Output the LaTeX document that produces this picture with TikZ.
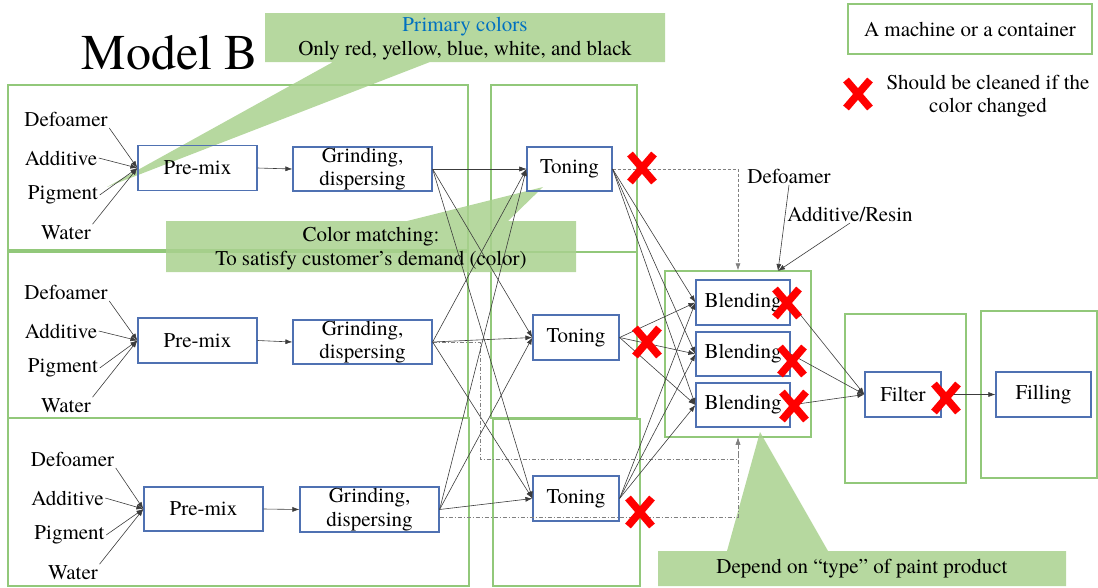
\documentclass[tikz,border=0pt]{standalone}
\usepackage{fontspec}
\setmainfont{texgyretermes}[Extension=.otf, UprightFont=*-regular, BoldFont=*-bold, ItalicFont=*-italic, BoldItalicFont=*-bolditalic]
\newfontfamily\tnr{texgyretermes}[Extension=.otf, UprightFont=*-regular, BoldFont=*-bold, ItalicFont=*-italic, BoldItalicFont=*-bolditalic]
\usetikzlibrary{arrows.meta}
\definecolor{boxblue}{RGB}{79,113,178}
\definecolor{contgreen}{RGB}{146,200,122}
\definecolor{callg}{RGB}{169,209,142}
\definecolor{primblue}{RGB}{0,112,192}
\definecolor{linec}{RGB}{60,60,60}
\tikzset{
  every node/.style={font=\tnr\fontsize{21}{23.5}\selectfont},
  cont/.style={draw=contgreen, line width=1.3pt, inner sep=0pt},
  pbox/.style={draw=boxblue, line width=1.2pt, inner sep=0pt, align=center},
  lbl/.style={inner sep=1.5pt},
  conn/.style={draw=linec, line width=0.6pt, -{Latex[length=7pt,width=5pt]}},
  dconn/.style={draw=gray, line width=0.7pt, dash pattern=on 3pt off 2pt, -{Latex[length=7pt,width=5pt]}},
  ddconn/.style={draw=gray, line width=0.7pt, dash pattern=on 4pt off 2pt on 1pt off 2pt, -{Latex[length=7pt,width=5pt]}},
  callout/.style={fill=callg, fill opacity=0.85},
  ctext/.style={inner sep=0pt, align=center},
  redx/.pic={\draw[red, line width=7.5pt] (-12,-14) -- (12,14) (-12,14) -- (12,-14);}
}
\begin{document}
\begin{tikzpicture}[x=1pt,y=-1pt]
\useasboundingbox (0,0) rectangle (1098,587);
% containers
\node[cont, minimum width=460pt, minimum height=165pt] (c1) at (238,167.5) {};
\node[cont, minimum width=460pt, minimum height=166pt] (c2) at (238,335) {};
\node[cont, minimum width=461pt, minimum height=168pt] (c3) at (238.5,502) {};
\node[cont, minimum width=146pt, minimum height=167pt] (t1c) at (564,168.5) {};
\node[cont, minimum width=146pt, minimum height=166pt] (t2c) at (564,335) {};
\node[cont, minimum width=147pt, minimum height=167pt] (t3c) at (566.5,502.5) {};
\node[cont, minimum width=146pt, minimum height=166pt] (bc) at (738,354) {};
\node[cont, minimum width=121pt, minimum height=169pt] (fc) at (905.5,398.5) {};
\node[cont, minimum width=116pt, minimum height=167pt] (flc) at (1039,394.5) {};
\node[cont, minimum width=244pt, minimum height=50pt] (leg) at (970,29) {A machine or a container};

% callouts
\fill[callout] (265,13) rectangle (665,62) (333,62) -- (107,187) -- (430,62) -- cycle;
\fill[callout] (166,221) rectangle (576,272) (407,221) -- (543,187) -- (508,221) -- cycle;
\fill[callout] (658,551) rectangle (1066,586) (727,551) -- (760,432) -- (828,551) -- cycle;

% title
\node[inner sep=0pt, font=\tnr\fontsize{50}{54}\selectfont] (title) at (170,53) {Model B};

% process boxes
\node[pbox, minimum width=119pt, minimum height=45pt] (pm1) at (197.5,168) {Pre-mix};
\node[pbox, minimum width=139pt, minimum height=44pt] (gr1) at (362.5,169) {Grinding,\\dispersing};
\node[pbox, minimum width=119pt, minimum height=45pt] (pm2) at (197.5,340.5) {Pre-mix};
\node[pbox, minimum width=139pt, minimum height=44pt] (gr2) at (362.5,342) {Grinding,\\dispersing};
\node[pbox, minimum width=119pt, minimum height=44pt] (pm3) at (203.5,509) {Pre-mix};
\node[pbox, minimum width=139pt, minimum height=45pt] (gr3) at (369.5,509.5) {Grinding,\\dispersing};
\node[pbox, minimum width=85pt, minimum height=44pt] (to1) at (569.5,169) {Toning};
\node[pbox, minimum width=86pt, minimum height=45pt] (to2) at (576,337.5) {Toning};
\node[pbox, minimum width=86pt, minimum height=45pt] (to3) at (576,498.5) {Toning};
\node[pbox, minimum width=94pt, minimum height=45pt] (bl1) at (743,302.5) {Blending};
\node[pbox, minimum width=94pt, minimum height=44pt] (bl2) at (743,354) {Blending};
\node[pbox, minimum width=94pt, minimum height=44pt] (bl3) at (743,405) {Blending};
\node[pbox, minimum width=76pt, minimum height=45pt] (fil) at (903,394.5) {Filter};
\node[pbox, minimum width=95pt, minimum height=45pt] (fll) at (1043.5,394.5) {Filling};

% input labels
\node[lbl] (d1) at (66,119) {Defoamer};
\node[lbl] (a1) at (61,158) {Additive};
\node[lbl] (p1) at (63,195) {Pigment};
\node[lbl] (w1) at (66,233) {Water};
\node[lbl] (d2) at (66,292) {Defoamer};
\node[lbl] (a2) at (61,331) {Additive};
\node[lbl] (p2) at (63,368) {Pigment};
\node[lbl] (w2) at (66,406) {Water};
\node[lbl] (d3) at (72.5,459) {Defoamer};
\node[lbl] (a3) at (67.5,498) {Additive};
\node[lbl] (p3) at (69.5,535) {Pigment};
\node[lbl] (w3) at (73,573) {Water};
\node[lbl] (bd) at (789,176) {Defoamer};
\node[lbl] (ba) at (850,214) {Additive/Resin};
\coordinate (bin) at (778,271);

\foreach \i in {1,2,3}{
  \draw[conn] (d\i.south east) -- (pm\i.west);
  \draw[conn] (a\i.east) -- (pm\i.west);
  \draw[conn] (p\i.east) -- (pm\i.west);
  \draw[conn] (w\i.north east) -- (pm\i.west);
  \draw[conn] (pm\i.east) -- (gr\i.west);
}
% dashed / dash-dot routes
\draw[dconn] (gr1.east) -- (to1.west);
\draw[dconn] (to1.east) -| (bc.north);
\coordinate (dd1) at (480,459);
\draw[ddconn] (gr2.east) -| (dd1) -| (bc.south);
\coordinate (dd2) at (738,517);
\draw[ddconn] (gr3.east |- dd2) -- (dd2) -- (bc.south);

% grinding -> toning, toning -> blending, blending -> filter
\foreach \i in {1,2,3}{
  \foreach \j in {1,2,3}{
    \draw[conn] (gr\i.east) -- (to\j.west);
    \draw[conn] (to\i.east) -- (bl\j.west);
  }
  \draw[conn] (bl\i.east) -- (fil.west);
}
\draw[conn] (fil.east) -- (fll.west);
\draw[conn] (bd.south) -- (bin);
\draw[conn] (ba.south) -- (bin);

% red crosses
\pic at (642,168) {redx};
\pic at (647,342) {redx};
\pic at (640,512) {redx};
\pic at (787,303) {redx};
\pic at (792,361) {redx};
\pic at (794,406) {redx};
\pic at (946,398) {redx};
\pic at (858,94) {redx};

% legend text
\node[ctext] (legx) at (988,96) {Should be cleaned if the\\color changed};

% callout texts
\node[ctext, text=primblue] (pc1) at (465,27) {Primary colors};
\node[ctext] (pc2) at (465,51) {Only red, yellow, blue, white, and black};
\node[ctext] (cm) at (371,248.5) {Color matching:\\To satisfy customer’s demand (color)};
\node[ctext] (dep) at (862,569) {Depend on “type” of paint product};
\end{tikzpicture}
\end{document}
